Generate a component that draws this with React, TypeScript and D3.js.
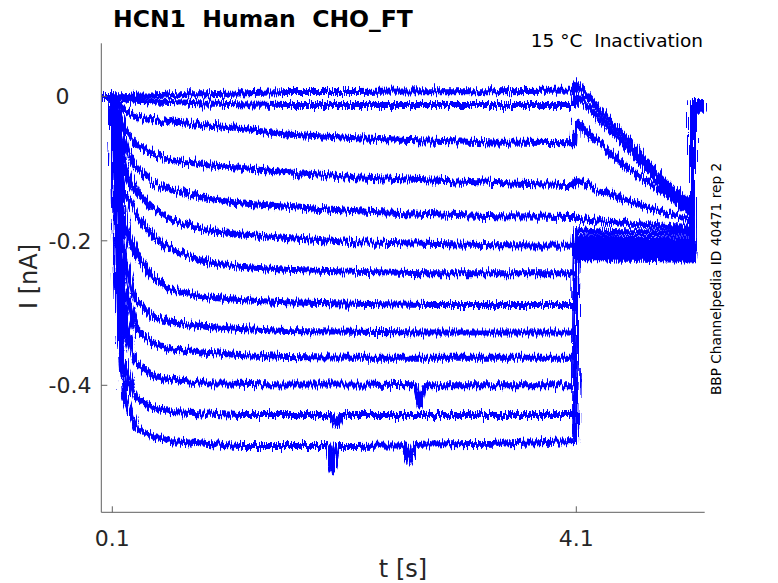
import * as d3 from 'd3';

// holding segment before the step (s)
const holdT = [0.005, 0.1];

// prepulse sampling times (s) and currents (nA), one row per sweep, top to bottom
const stepT = [0.1, 0.12, 0.15, 0.2, 0.3, 0.45, 0.6, 0.9, 1.2, 1.6, 2.2, 2.8, 3.4, 4.09];
const stepI: number[][] = [
  [0, 0, 0, 0, 0.001, 0.001, 0.003, 0.003, 0.004, 0.006, 0.006, 0.007, 0.007, 0.008],
  [0, -0.001, -0.003, -0.004, -0.006, -0.007, -0.008, -0.010, -0.011, -0.012, -0.012, -0.012, -0.012, -0.012],
  [0, -0.004, -0.011, -0.019, -0.028, -0.033, -0.036, -0.040, -0.044, -0.053, -0.058, -0.061, -0.064, -0.065],
  [0, -0.008, -0.022, -0.043, -0.066, -0.080, -0.088, -0.095, -0.099, -0.105, -0.112, -0.116, -0.120, -0.123],
  [0, -0.014, -0.036, -0.068, -0.098, -0.119, -0.130, -0.141, -0.148, -0.153, -0.159, -0.163, -0.166, -0.167],
  [0, -0.019, -0.054, -0.095, -0.130, -0.156, -0.170, -0.185, -0.191, -0.196, -0.202, -0.204, -0.206, -0.207],
  [0, -0.026, -0.075, -0.130, -0.162, -0.193, -0.211, -0.229, -0.236, -0.240, -0.243, -0.245, -0.245, -0.245],
  [0, -0.040, -0.102, -0.178, -0.218, -0.251, -0.267, -0.278, -0.282, -0.285, -0.287, -0.289, -0.289, -0.289],
  [0, -0.054, -0.130, -0.220, -0.282, -0.305, -0.312, -0.319, -0.322, -0.325, -0.326, -0.327, -0.327, -0.327],
  [0, -0.068, -0.164, -0.261, -0.321, -0.343, -0.350, -0.355, -0.358, -0.361, -0.362, -0.362, -0.362, -0.362],
  [0, -0.082, -0.206, -0.310, -0.368, -0.387, -0.392, -0.397, -0.398, -0.399, -0.399, -0.400, -0.400, -0.400],
  [0, -0.102, -0.254, -0.365, -0.417, -0.431, -0.437, -0.439, -0.441, -0.441, -0.441, -0.441, -0.441, -0.441],
  [0, -0.130, -0.310, -0.413, -0.459, -0.471, -0.477, -0.481, -0.484, -0.484, -0.484, -0.482, -0.481, -0.477],
];

// small dips seen in some sweeps: [sweep, t, I]
const glitches: [number, number, number][] = [
  [12, 1.96, -0.484], [12, 2.0, -0.518], [12, 2.04, -0.484],
  [12, 2.63, -0.483], [12, 2.67, -0.508], [12, 2.71, -0.483],
  [11, 1.99, -0.441], [11, 2.03, -0.456], [11, 2.07, -0.441],
  [10, 2.71, -0.400], [10, 2.75, -0.428], [10, 2.79, -0.400],
];

// tail pulse
const tailT = [4.1, 4.3, 4.5, 4.7, 4.9, 5.1];
const tailI: number[][] = [
  [0.018, -0.018, -0.053, -0.090, -0.124, -0.151],
  [0.001, -0.030, -0.065, -0.099, -0.133, -0.160],
  [-0.036, -0.065, -0.094, -0.117, -0.138, -0.163],
  [-0.116, -0.130, -0.142, -0.153, -0.163, -0.171],
  [-0.169, -0.173, -0.175, -0.178, -0.181, -0.182],
  [-0.185, -0.187, -0.188, -0.188, -0.189, -0.189],
  [-0.195, -0.195, -0.197, -0.197, -0.198, -0.198],
  [-0.202, -0.202, -0.203, -0.203, -0.204, -0.204],
  [-0.207, -0.208, -0.208, -0.209, -0.209, -0.210],
  [-0.213, -0.213, -0.213, -0.214, -0.214, -0.214],
  [-0.217, -0.217, -0.218, -0.218, -0.218, -0.218],
  [-0.221, -0.221, -0.222, -0.222, -0.222, -0.222],
  [-0.224, -0.224, -0.225, -0.225, -0.226, -0.226],
];

// back to holding
const postT = [5.101, 5.207];
const postI = [-0.008, -0.009, -0.010, -0.011, -0.012, -0.013, -0.014, -0.015, -0.016, -0.017, -0.018, -0.019, -0.020];

const xTicks = [0.1, 4.1];
const yTicks = [0, -0.2, -0.4];

const W = 778, H = 583;
const FONT = 'DejaVu Sans, sans-serif';
const AXIS = '#5f5f5f';

export default function App() {
  const x = d3.scaleLinear().domain([0.00517, 5.2069]).range([101.3, 704.7]);
  const y = d3.scaleLinear().domain([-0.5758, 0.0734]).range([512.3, 43.3]);

  const line = d3.line<[number, number]>()
    .x(d => x(d[0]))
    .y(d => y(d[1]));

  const sweeps = stepI.map((row, k) => {
    const pts: [number, number][] = [
      ...holdT.map(t => [t, 0] as [number, number]),
      ...stepT.map((t, i) => [t, row[i]] as [number, number]),
      ...glitches.filter(g => g[0] === k).map(g => [g[1], g[2]] as [number, number]),
    ].sort((a, b) => a[0] - b[0]);
    tailT.forEach((t, i) => pts.push([t, tailI[k][i]]));
    postT.forEach(t => pts.push([t, postI[k]]));
    return pts;
  });

  const [x0, x1] = x.range();
  const [yb, yt] = y.range();

  return (
    <svg width={W} height={H} style={{ position: 'absolute', left: 0, top: 0, background: '#fff' }}>
      <defs>
        <filter id="jitter" filterUnits="userSpaceOnUse" x={90} y={30} width={640} height={500}>
          <feTurbulence type="fractalNoise" baseFrequency="0.85 0.03" numOctaves={2} seed={7} result="n" />
          <feDisplacementMap in="SourceGraphic" in2="n" scale={13} xChannelSelector="G" yChannelSelector="R" />
        </filter>
      </defs>

      <g filter="url(#jitter)">
        {sweeps.map((pts, k) => (
          <path key={k} d={line(pts) ?? ''} fill="none" stroke="#0000ff" strokeWidth={6} strokeLinejoin="round" />
        ))}
      </g>

      {/* axes */}
      <line x1={x0} x2={x1} y1={yb} y2={yb} stroke={AXIS} />
      <line x1={x0} x2={x0} y1={yb} y2={yt} stroke={AXIS} />
      {xTicks.map(t => (
        <g key={t}>
          <line x1={x(t)} x2={x(t)} y1={yb} y2={yb - 6} stroke={AXIS} />
          <text x={x(t)} y={546} textAnchor="middle" fontFamily={FONT} fontSize={22} fill="#262626">{t}</text>
        </g>
      ))}
      {yTicks.map(v => (
        <g key={v}>
          <line x1={x0} x2={x0 + 6} y1={y(v)} y2={y(v)} stroke={AXIS} />
          <text x={v === 0 ? 69.5 : 91.5} y={y(v) + 8} textAnchor="end" fontFamily={FONT} fontSize={22} fill="#262626">{v === 0 ? '0' : v.toFixed(1)}</text>
        </g>
      ))}

      <text x={403} y={577} textAnchor="middle" fontFamily={FONT} fontSize={24} fill="#262626">t [s]</text>
      <text transform="translate(36.5,276.5) rotate(-90)" textAnchor="middle" fontFamily={FONT} fontSize={24} fill="#262626">I [nA]</text>

      <text x={113} y={27} fontFamily={FONT} fontWeight="bold" fontSize={23.5} fill="#000" style={{ whiteSpace: 'pre' }}>HCN1  Human  CHO_FT</text>
      <text x={703} y={47} textAnchor="end" fontFamily={FONT} fontSize={18.5} fill="#000" style={{ whiteSpace: 'pre' }}>15 °C  Inactivation</text>
      <text transform="translate(721,279) rotate(-90)" textAnchor="middle" fontFamily={FONT} fontSize={13.7} fill="#000">BBP Channelpedia ID 40471 rep 2</text>
    </svg>
  );
}
